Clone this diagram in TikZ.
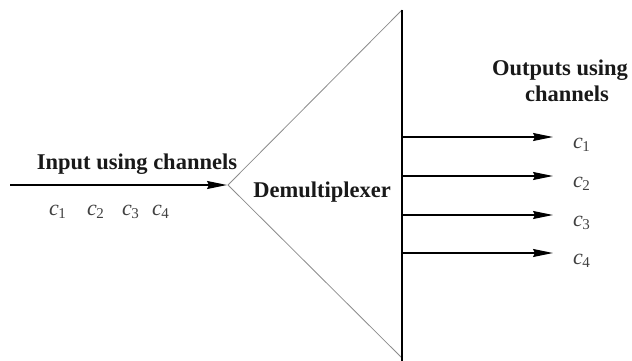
\documentclass[tikz,border=0pt]{standalone}
\usepackage{fontspec}
\setmainfont{Liberation Serif}
\usetikzlibrary{arrows.meta}
\tikzset{
  heading/.style={font=\fontsize{22.5}{25}\selectfont\bfseries, text=black!90, inner sep=0pt},
  chan/.style={font=\fontsize{22}{24}\selectfont, text=black!75, inner sep=0pt, anchor=base west},
  bus/.style={line width=2pt},
  edge/.style={draw=black!45, line width=0.8pt},
  sig/.style={->, line width=1.5pt},
  >={Stealth[length=20pt, width=8pt, inset=2pt]},
}
\newcommand{\ch}[1]{\textit{c}\kern-0.5pt\raisebox{-0.35ex}{\fontsize{15}{15}\selectfont #1}}

\begin{document}
\begin{tikzpicture}[x=1pt, y=-1pt]
    \useasboundingbox (0,0) rectangle (632,361);
    % demultiplexer wedge
    \coordinate (apex) at (228,185);
    \coordinate (top) at (402,10);
    \coordinate (bot) at (402,358);
    \draw[edge] (top) -- (apex) -- (bot);
    \draw[bus] (top) -- (402,361);
    \node[heading, anchor=base] (demux) at (322,197) {Demultiplexer};

    % input side
    \coordinate (in) at (10,185);
    \draw[sig, shorten >=1pt] (in) -- (apex);
    \node[heading, anchor=base] (inlbl) at (137,169) {Input using channels};
    \node[chan] (ic1) at (49,215) {\ch{1}};
    \node[chan] (ic2) at (87,215) {\ch{2}};
    \node[chan] (ic3) at (122,215) {\ch{3}};
    \node[chan] (ic4) at (152,215) {\ch{4}};

    % output side
    \node[heading, anchor=base] (outlbl) at (560,75) {Outputs using};
    \node[heading, anchor=base] (outlbl2) at (567,102) {channels};
    \foreach \i/\y in {1/137, 2/176, 3/215, 4/253} {
      \coordinate (s\i) at (402,\y);
      \coordinate (e\i) at (553,\y);
      \draw[sig] (s\i) -- (e\i);
      \node[chan] (oc\i) at (573,\y+11) {\ch{\i}};
    }
  \end{tikzpicture}
\end{document}
